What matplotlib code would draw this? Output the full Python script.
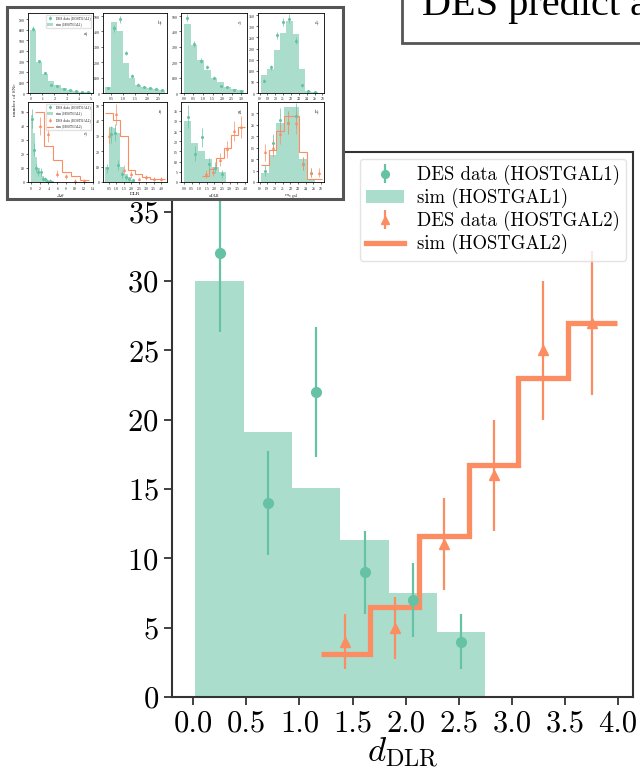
import numpy as np
import matplotlib
matplotlib.use("Agg")
import matplotlib.pyplot as plt
from matplotlib.patches import Rectangle

plt.rcParams["font.family"] = "cmr10"
plt.rcParams["mathtext.fontset"] = "cm"
plt.rcParams["axes.formatter.use_mathtext"] = True
plt.rcParams["axes.unicode_minus"] = False

GREEN = "#66c2a5"
ORANGE = "#fc8d62"
W, H = 640, 772

# ---- main panel: d_DLR for both host-galaxy samples ----
dlr1_edges = [0.02, 0.475, 0.93, 1.385, 1.84, 2.295, 2.75]
dlr1_sim = [30.0, 19.1, 15.1, 11.3, 7.5, 4.7]
dlr1_data = [32, 14, 22, 9, 7, 4]
dlr2_edges = [1.2, 1.665, 2.13, 2.595, 3.06, 3.525, 3.99]
dlr2_sim = [3.1, 6.5, 11.6, 16.7, 23.0, 27.0]
dlr2_data = [4, 5, 11, 16, 25, 27]
main_xticks = [0.0, 0.5, 1.0, 1.5, 2.0, 2.5, 3.0, 3.5, 4.0]
main_yticks = [0, 5, 10, 15, 20, 25, 30, 35]

# ---- small overview panels (a-h) ----
a_edges = [0, 0.5, 1.0, 1.5, 2.0, 2.5, 3.0, 3.5, 4.0, 4.5, 5.0]
a_sim = [600, 295, 180, 110, 75, 50, 30, 22, 12, 6]
a_data = [610, 300, 190, 80, 65, 35, 25, 15, 10, 5]
b_edges = [0.25, 0.5, 0.75, 1.0, 1.25, 1.5, 1.75, 2.0, 2.25, 2.5, 2.75]
b_sim = [40, 460, 400, 195, 100, 50, 40, 30, 25, 20]
b_data = [30, 420, 480, 260, 110, 55, 40, 30, 25, 20]
c_edges = [0.0, 0.35, 0.7, 1.05, 1.4, 1.75, 2.1, 2.45, 2.8, 3.15]
c_sim = [450, 310, 215, 150, 100, 70, 40, 25, 20]
c_data = [490, 320, 210, 170, 100, 45, 40, 20, 15]
d_edges = [18.2, 19.0, 19.8, 20.6, 21.4, 22.2, 23.0, 23.8, 24.6, 25.4]
d_sim = [80, 110, 195, 270, 325, 265, 110, 10, 5]
d_data = [55, 115, 260, 320, 335, 235, 35, 10, 5]
e1_edges = [0, 0.5, 1.0, 1.5, 2.0, 2.5, 3.0, 3.5, 4.0, 4.5, 5.0]
e1_sim = [48, 35, 18, 10, 6, 4, 2, 1, 1, 0.5]
e1_data = [45, 23, 10, 7, 7, 2, 2, 1, 1, 0]
e2_edges = [1, 3, 5, 7, 9, 11, 13]
e2_sim = [50, 26, 16, 7, 4, 1.5]
e2_data = [40, 34, 6, 4, 1, 1]
f1_edges = [0.25, 0.5, 0.75, 1.0, 1.25, 1.5, 1.75, 2.0, 2.25]
f1_sim = [10, 36, 35, 32, 10, 5, 3, 1]
f1_data = [9, 31, 32, 11, 5, 3, 2, 1]
f2_edges = [0.25, 0.75, 1.25, 1.75, 2.25, 2.75, 3.25, 3.75, 4.25]
f2_sim = [45, 40, 30, 8, 5, 3, 2, 2]
f2_data = [30, 44, 8, 5, 2, 3, 2, 2]
h1_edges = [18.2, 19.2, 20.2, 21.2, 22.2, 23.2, 24.2, 25.2]
h1_sim = [4, 12, 26, 33, 33, 10, 1]
h1_data = [5, 17, 27, 26, 29, 8, 4]
h2_edges = [18.2, 19.2, 20.2, 21.2, 22.2, 23.2, 24.2, 25.2, 26.2]
h2_sim = [7.5, 14, 22.5, 29, 29, 13, 1.5, 1.5]
h2_data = [13, 15, 21, 26, 26, 8, 4, 4]

ORDER = ["DES data (HOSTGAL1)", "sim (HOSTGAL1)", "DES data (HOSTGAL2)", "sim (HOSTGAL2)"]


def centers(edges):
    e = np.asarray(edges, float)
    return 0.5 * (e[1:] + e[:-1])


def frac(x0, y0, x1, y1):
    return [x0 / W, 1 - y1 / H, (x1 - x0) / W, (y1 - y0) / H]


def ordered(a):
    h, l = a.get_legend_handles_labels()
    keys = [k for k in ORDER if k in l]
    return [h[l.index(k)] for k in keys], keys


fig = plt.figure(figsize=(W / 100, H / 100), dpi=100)

# ---------------- main axes ----------------
ax = fig.add_axes(frac(172, 152, 633, 697))
ax.hist(centers(dlr1_edges), bins=dlr1_edges, weights=dlr1_sim,
        color=GREEN, alpha=0.55, label="sim (HOSTGAL1)")
d1 = np.array(dlr1_data, float)
ax.errorbar(centers(dlr1_edges), d1, yerr=np.sqrt(d1), fmt="o", color=GREEN,
            ms=7, elinewidth=1.6, capsize=0, label="DES data (HOSTGAL1)")
d2 = np.array(dlr2_data, float)
ax.errorbar(centers(dlr2_edges), d2, yerr=np.sqrt(d2), fmt="^", color=ORANGE,
            ms=7, elinewidth=1.6, capsize=0, label="DES data (HOSTGAL2)")
ax.stairs(dlr2_sim, dlr2_edges, baseline=None, color=ORANGE, lw=3.8,
          label="sim (HOSTGAL2)")

ax.set_xlim(-0.2, 4.14)
ax.set_ylim(0, 39.3)
ax.set_xticks(main_xticks)
ax.set_xticklabels([f"{v:.1f}" for v in main_xticks])
ax.set_yticks(main_yticks)
ax.tick_params(labelsize=22, length=6, width=1.3, color="#333333")
for s in ax.spines.values():
    s.set_color("#333333")
    s.set_linewidth(1.5)
ax.set_xlabel(r"$d_{\rm DLR}$", fontsize=25, labelpad=-2)

hh, ll = ordered(ax)
ax.legend(hh, ll, loc="upper right", fontsize=13.5, framealpha=0.8,
          edgecolor="#dddddd", handlelength=2.0, borderaxespad=0.35,
          labelspacing=0.15, markerscale=0.8, borderpad=0.35, handletextpad=0.7)

# ---------------- overview figure (a-h) ----------------
fig.patches.append(Rectangle((7 / W, 1 - 199 / H), 336 / W, 192 / H,
                             transform=fig.transFigure, facecolor="white",
                             edgecolor="#555555", lw=2.2, zorder=5))

cols = [(28, 93), (103, 167), (181, 247), (258, 324)]
rows = [(13, 93), (102, 182)]


def small_axes(col, row):
    x0, x1 = cols[col]
    y0, y1 = rows[row]
    a = fig.add_axes(frac(x0, y0, x1, y1), zorder=6)
    a.tick_params(labelsize=2.6, length=1.2, width=0.4, pad=0.6)
    for s in a.spines.values():
        s.set_linewidth(0.6)
    return a


def panel(col, row, e1, s1, v1, tag, xlim, ylim, xt, yt, e2=None, s2=None, v2=None,
          xlab=None, tag_y=0.88):
    a = small_axes(col, row)
    a.hist(centers(e1), bins=e1, weights=s1, color=GREEN, alpha=0.55,
           label="sim (HOSTGAL1)")
    v1 = np.array(v1, float)
    a.errorbar(centers(e1), v1, yerr=np.sqrt(v1), fmt="o", color=GREEN, ms=1.2,
               elinewidth=0.5, capsize=0, label="DES data (HOSTGAL1)")
    if e2 is not None:
        v2 = np.array(v2, float)
        a.errorbar(centers(e2), v2, yerr=np.sqrt(v2), fmt="^", color=ORANGE,
                   ms=1.2, elinewidth=0.5, capsize=0, label="DES data (HOSTGAL2)")
        a.stairs(s2, e2, baseline=None, color=ORANGE, lw=0.8, label="sim (HOSTGAL2)")
    a.set_xlim(*xlim)
    a.set_ylim(*ylim)
    a.set_xticks(xt)
    a.set_yticks(yt)
    a.text(0.93, tag_y, tag, transform=a.transAxes, ha="right", va="center",
           fontsize=3.6)
    if xlab:
        a.set_xlabel(xlab, fontsize=3.6, labelpad=0.5)
    return a


pa = panel(0, 0, a_edges, a_sim, a_data, "a)", (-0.2, 5.2), (0, 760),
           [0, 1, 2, 3, 4, 5], list(range(0, 701, 100)), tag_y=0.74)
hh_a, ll_a = ordered(pa)
pa.legend(hh_a, ll_a, loc="upper right", fontsize=2.3, handlelength=2,
          borderpad=0.3, framealpha=0.8, edgecolor="#dddddd")
panel(1, 0, b_edges, b_sim, b_data, "b)", (0.15, 2.85), (0, 520),
      [0.5, 1.0, 1.5, 2.0, 2.5], list(range(0, 501, 100)))
panel(2, 0, c_edges, c_sim, c_data, "c)", (-0.15, 3.3), (0, 520),
      [0.0, 0.5, 1.0, 1.5, 2.0, 2.5, 3.0], list(range(0, 501, 100)))
panel(3, 0, d_edges, d_sim, d_data, "d)", (17.8, 26.2), (0, 360),
      list(range(18, 27)), list(range(0, 351, 50)))
pe = panel(0, 1, e1_edges, e1_sim, e1_data, "e)", (-0.6, 14), (0, 57),
           list(range(0, 15, 2)), [0, 10, 20, 30, 40, 50],
           e2_edges, e2_sim, e2_data, xlab=r"$\Delta\theta$", tag_y=0.6)
hh_e, ll_e = ordered(pe)
pe.legend(hh_e, ll_e, loc="upper right", fontsize=2.3, handlelength=2,
          borderpad=0.3, framealpha=0.8, edgecolor="#dddddd")
panel(1, 1, f1_edges, f1_sim, f1_data, "f)", (0.1, 4.4), (0, 52),
      [0.5, 1.0, 1.5, 2.0, 2.5, 3.0, 3.5, 4.0], [0, 10, 20, 30, 40, 50],
      f2_edges, f2_sim, f2_data, xlab="DLR")
panel(2, 1, dlr1_edges, dlr1_sim, dlr1_data, "g)", (-0.2, 4.14), (0, 39.3),
      main_xticks, main_yticks, dlr2_edges, dlr2_sim, dlr2_data,
      xlab=r"$d_{\rm DLR}$")
panel(3, 1, h1_edges, h1_sim, h1_data, "h)", (17.8, 26.4), (0, 35),
      list(range(18, 27)), [0, 5, 10, 15, 20, 25, 30],
      h2_edges, h2_sim, h2_data, xlab=r"$m_{r,\rm gal}$")
fig.text(15 / W, 1 - 100 / H, "number of SNe", rotation=90, fontsize=3.6,
         ha="center", va="center", zorder=7)

# ---------------- title box, top right ----------------
fig.patches.append(Rectangle((402 / W, 1 - 43 / H), 260 / W, 60 / H,
                             transform=fig.transFigure, facecolor="white",
                             edgecolor="#555555", lw=2.0, zorder=5))
fig.text(422 / W, 1 - 15 / H, "DES predict a", family="Liberation Serif",
         fontsize=29, ha="left", va="baseline", zorder=7)

fig.savefig("out.png", dpi=100)
